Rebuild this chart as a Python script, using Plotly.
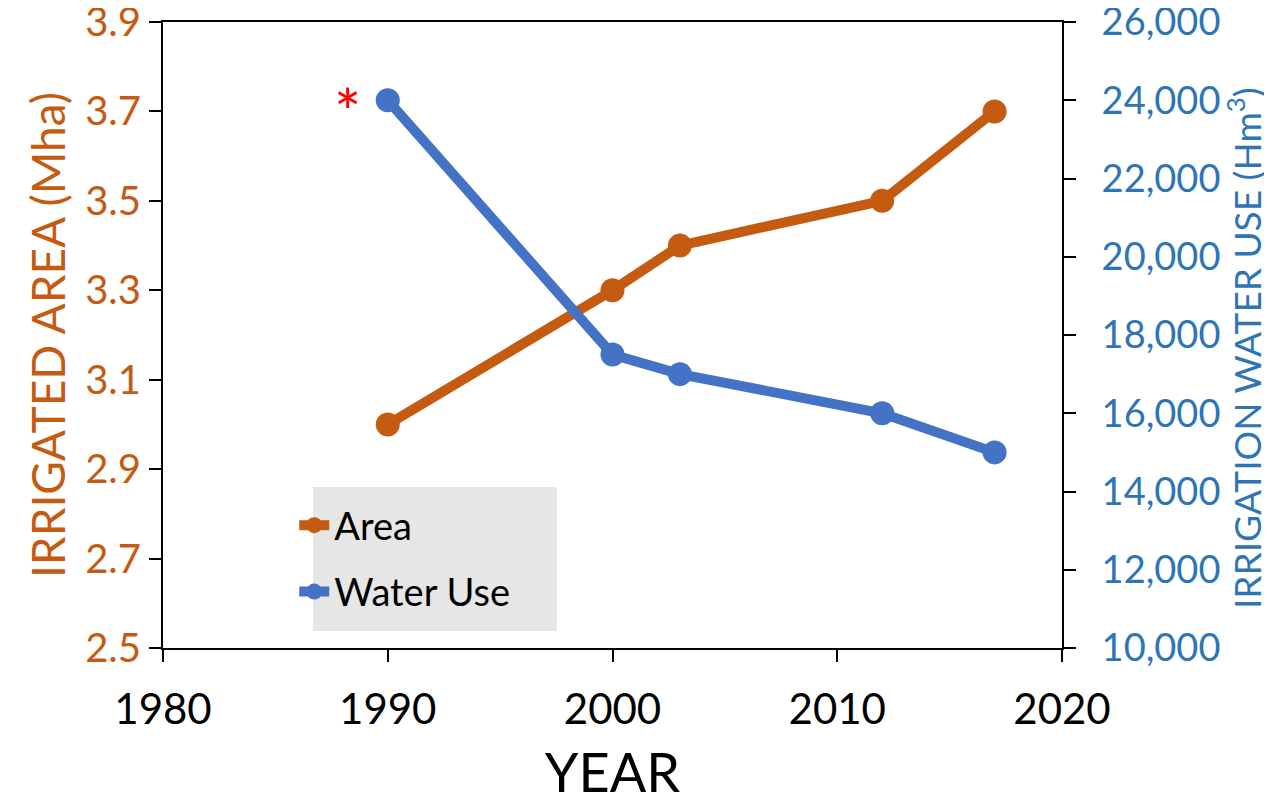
import plotly.graph_objects as go

years = [1990, 2000, 2003, 2012, 2017]
area_mha = [3.0, 3.3, 3.4, 3.5, 3.7]
water_use_hm3 = [24000, 17500, 17000, 16000, 15000]

x_ticks = [1980, 1990, 2000, 2010, 2020]
left_ticks = [2.5, 2.7, 2.9, 3.1, 3.3, 3.5, 3.7, 3.9]
right_ticks = list(range(10000, 26001, 2000))

ORANGE = "#C55A11"
BLUE = "#4472C4"
BLUE_TXT = "#2E75B6"
FONT = "Lato"

fig = go.Figure()
fig.add_trace(go.Scatter(
    x=years, y=area_mha, name="Area", mode="lines+markers",
    line=dict(color=ORANGE, width=10), marker=dict(size=24, color=ORANGE),
    yaxis="y", legendgroup="a"))
fig.add_trace(go.Scatter(
    x=years, y=water_use_hm3, name="Water Use", mode="lines+markers",
    line=dict(color=BLUE, width=10), marker=dict(size=24, color=BLUE),
    yaxis="y2", legendgroup="b"))

fig.update_layout(
    width=1264, height=796,
    margin=dict(l=155, r=210, t=14, b=156, autoexpand=False),
    paper_bgcolor="white", plot_bgcolor="white",
    font=dict(family=FONT, size=40, color="black"),
    showlegend=True,
    legend=dict(x=0.146, y=0.246, xanchor="left", yanchor="top",
                bgcolor="rgba(0,0,0,0)", font=dict(size=38, color="black"),
                tracegroupgap=14),
    xaxis=dict(range=[1980, 2020], tickvals=x_ticks, ticks="outside", ticklen=12,
               tickwidth=2, tickcolor="black", showline=True, linecolor="black",
               linewidth=2, mirror=True, showgrid=False, zeroline=False,
               automargin=False, ticklabelstandoff=12, ticklabeloverflow="allow",
               tickfont=dict(size=42, color="black"),
               title=dict(text="YEAR", font=dict(size=54, color="black"), standoff=39)),
    yaxis=dict(range=[2.5, 3.9], tickvals=left_ticks, tickformat=".1f",
               ticks="outside", ticklen=12, tickwidth=2, tickcolor="black",
               showline=True, linecolor="black", linewidth=2, showgrid=False,
               zeroline=False, automargin=False, ticklabeloverflow="allow",
               tickfont=dict(size=40, color=ORANGE),
               title=dict(text="IRRIGATED AREA (Mha)", font=dict(size=46, color=ORANGE),
                          standoff=5)),
    yaxis2=dict(range=[10000, 26000], tickvals=right_ticks, tickformat=",d",
                overlaying="y", side="right", ticks="outside", ticklen=12,
                tickwidth=2, tickcolor="black", showline=True, linecolor="black",
                linewidth=2, showgrid=False, zeroline=False, automargin=False,
                ticklabelstandoff=18, ticklabeloverflow="allow",
                tickfont=dict(size=38, color=BLUE_TXT)),
    shapes=[dict(type="rect", xref="paper", yref="paper",
                 x0=(313-163)/899, x1=(557-163)/899,
                 y0=(648-631)/626, y1=(648-487)/626,
                 fillcolor="#E6E6E6", line=dict(width=0), layer="below")],
    annotations=[
        dict(x=1988.2, y=3.699, xref="x", yref="y", text="*", showarrow=False,
             font=dict(size=64, color="red"), yanchor="middle"),
        dict(x=(1244-163)/899, y=(648-348)/626, xref="paper", yref="paper",
             text="IRRIGATION WATER USE (Hm<sup>3</sup>)", textangle=-90,
             showarrow=False, xanchor="center", yanchor="middle",
             font=dict(size=37, color=BLUE_TXT)),
    ],
)

fig.write_html("out.html")
